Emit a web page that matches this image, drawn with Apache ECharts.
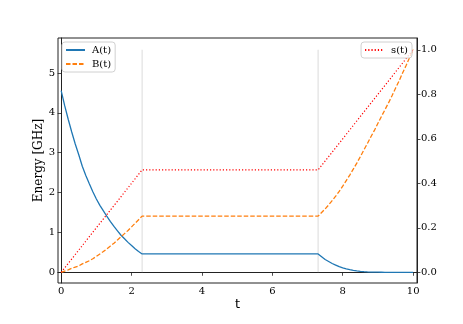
<!DOCTYPE html>
<html>
<head>
<meta charset="utf-8">
<script src="https://cdn.jsdelivr.net/npm/echarts@6/dist/echarts.min.js"></script>
<style>html,body{margin:0;padding:0;background:#fff;}#c{width:463px;height:324px;}</style>
</head>
<body>
<div id="c"></div>
<script>
// time samples (t)
const times = [0,0.1,0.2,0.3,0.4,0.5,0.6,0.7,0.8,0.9,1.0,1.1,1.2,1.3,1.4,1.5,1.6,1.7,1.8,1.9,2.0,2.1,2.2,2.3,
  7.3,7.4,7.5,7.6,7.7,7.8,7.9,8.0,8.1,8.2,8.3,8.4,8.5,8.6,8.7,8.8,8.9,9.0,9.1,9.2,9.3,9.4,9.5,9.6,9.7,9.8,9.9,10.0];
// A(t) [GHz]
const aValues = [4.56,4.18,3.84,3.52,3.22,2.95,2.66,2.43,2.22,2.02,1.84,1.68,1.54,1.40,1.27,1.15,1.04,0.93,0.84,0.75,0.67,0.59,0.52,0.46,
  0.46,0.39,0.32,0.27,0.22,0.18,0.14,0.11,0.085,0.065,0.048,0.035,0.024,0.016,0.01,0.006,0.004,0.002,0.001,0,0,0,0,0,0,0,0,0];
// B(t) [GHz]
const bValues = [0,0.03,0.06,0.10,0.13,0.16,0.21,0.25,0.29,0.34,0.40,0.46,0.52,0.59,0.66,0.73,0.81,0.89,0.97,1.05,1.14,1.23,1.32,1.41,
  1.41,1.50,1.59,1.69,1.80,1.91,2.03,2.16,2.30,2.44,2.59,2.74,2.90,3.07,3.23,3.40,3.56,3.74,3.91,4.08,4.25,4.43,4.62,4.80,5.00,5.19,5.39,5.59];
// s(t) (right axis)
const sTimes = [0,2.3,7.3,10];
const sValues = [0,0.46,0.46,1.0];
// vertical marker times
const markerTimes = [2.3,7.3];
// tick labels
const xTicks = [0,2,4,6,8,10];
const yLeftTicks = [0,1,2,3,4,5];
const yRightTicks = [0,0.2,0.4,0.6,0.8,1.0];

const serif = 'DejaVu Serif';
const pair = (ts, vs) => ts.map((t,i)=>[t, vs[i]]);

const chart = echarts.init(document.getElementById('c'), null, {renderer:'canvas'});
const vSeries = markerTimes.map((t,i)=>({
  name:'v'+i, type:'line', xAxisIndex:0, yAxisIndex:1, data:[[t,0],[t,1]],
  showSymbol:false, symbol:'none', silent:true, z:1,
  lineStyle:{color:'#b4b4b4', width:0.5}
}));
const legendCommon = {orient:'vertical', top:42, itemWidth:19, itemHeight:8, itemGap:4,
  padding:[3,4,3,3], borderColor:'#d0d0d0', borderWidth:1, borderRadius:3, backgroundColor:'rgba(255,255,255,0.8)',
  itemStyle:{opacity:0},
  textStyle:{fontFamily:serif, fontSize:10, color:'#000', padding:[0,0,0,2]}};
chart.setOption({
  animation:false,
  grid:{left:58, right:46, top:38, bottom:41, show:true, borderColor:'#222', borderWidth:1, backgroundColor:'transparent'},
  xAxis:{type:'value', min:-0.09, max:10.11,
    name:'t', nameLocation:'middle', nameGap:15, nameMoveOverlap:false,
    nameTextStyle:{fontFamily:'DejaVu Sans', fontSize:13, color:'#000'},
    axisLine:{show:true, lineStyle:{color:'#222', width:1}},
    axisTick:{show:true, customValues:xTicks, length:3.5, lineStyle:{color:'#222', width:0.8}},
    axisLabel:{customValues:xTicks, fontFamily:serif, fontSize:10, color:'#000', margin:3},
    splitLine:{show:false}},
  yAxis:[
    {type:'value', min:-0.269, max:5.879, position:'left',
      name:'Energy [GHz]', nameLocation:'middle', nameGap:13, nameRotate:90, nameMoveOverlap:false,
      nameTextStyle:{fontFamily:serif, fontSize:12, color:'#000'},
      axisLine:{show:true, lineStyle:{color:'#222', width:1}},
      axisTick:{show:true, customValues:yLeftTicks, length:3.5, lineStyle:{color:'#222', width:0.8}},
      axisLabel:{customValues:yLeftTicks, fontFamily:serif, fontSize:10, color:'#000', margin:3},
      splitLine:{show:false}},
    {type:'value', min:-0.048, max:1.0528, position:'right',
      axisLine:{show:true, lineStyle:{color:'#222', width:1}},
      axisTick:{show:true, customValues:yRightTicks, length:3.5, lineStyle:{color:'#222', width:0.8}},
      axisLabel:{customValues:yRightTicks, fontFamily:serif, fontSize:10, color:'#000', margin:4,
        formatter:v=>v.toFixed(1)},
      splitLine:{show:false}}
  ],
  legend:[
    Object.assign({data:['A(t)','B(t)'], left:62}, legendCommon),
    Object.assign({data:['s(t)'], right:51}, legendCommon)
  ],
  series:[
    ...vSeries,
    {name:'A(t)', type:'line', data:pair(times,aValues), showSymbol:false, symbol:'none', z:3,
      itemStyle:{color:'#1f77b4'}, lineStyle:{color:'#1f77b4', width:1.3}},
    {name:'B(t)', type:'line', data:pair(times,bValues), showSymbol:false, symbol:'none', z:3,
      itemStyle:{color:'#ff7f0e'}, lineStyle:{color:'#ff7f0e', width:1.3, type:[4.5,2]}},
    {name:'s(t)', type:'line', yAxisIndex:1, data:pair(sTimes,sValues), showSymbol:false, symbol:'none', z:3,
      itemStyle:{color:'#ff0000'}, lineStyle:{color:'#ff0000', width:1.2, type:[1.2,2]}}
  ]
});
</script>
</body>
</html>
